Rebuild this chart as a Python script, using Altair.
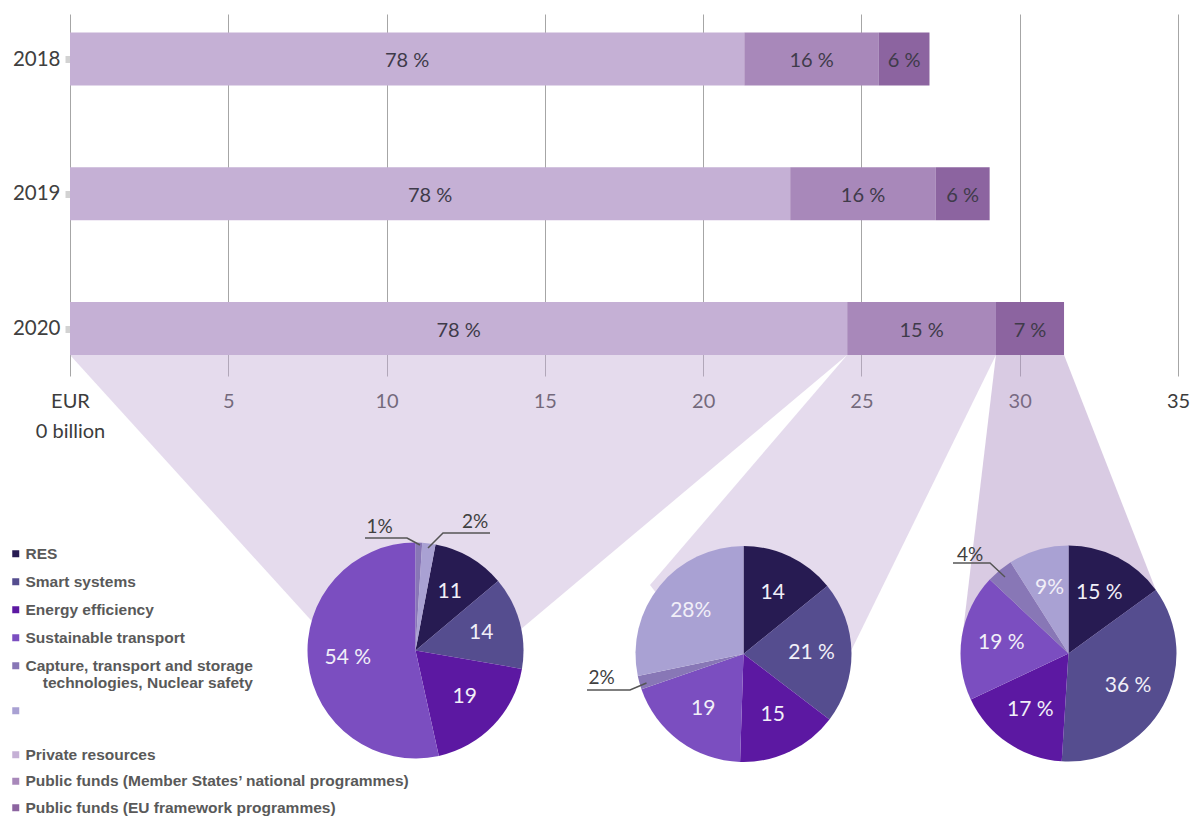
import json
import altair as alt
import numpy as np
import pandas as pd

# ---------------- data ----------------
years = ["2018", "2019", "2020"]
sources = ["Private resources",
           "Public funds (Member States\u2019 national programmes)",
           "Public funds (EU framework programmes)"]
private_bn = [21.3, 22.75, 24.55]
national_bn = [4.25, 4.6, 4.7]
eu_bn = [1.6, 1.7, 2.15]
private_pct = ["78 %", "78 %", "78 %"]
national_pct = ["16 %", "16 %", "15 %"]
eu_pct = ["6 %", "6 %", "7 %"]

themes = ["RES", "Smart systems", "Energy efficiency", "Sustainable transport",
          "Capture, transport and  storage\n\u200b\u00a0\u00a0\u00a0\u00a0technologies, Nuclear safety",
          " "]
pie_private = [11, 14, 19, 54, 1, 2]
pie_national = [14, 21, 15, 19, 2, 28]
pie_eu = [15, 36, 17, 19, 4, 9]
inside_private = ["11", "14", "19", "54 %", "", ""]
inside_national = ["14", "21 %", "15", "19", "", "28%"]
inside_eu = ["15 %", "36 %", "17 %", "19 %", "", "9%"]
outside_pie = [0, 0, 1, 2]
outside_text = ["1%", "2%", "2%", "4%"]

# ---------------- styles / layout ----------------
bar_colors = ["#c5b0d5", "#a888ba", "#8c64a0"]
theme_colors = ["#271b52", "#554d8f", "#5c18a2", "#7b4ec0", "#8877b6", "#a9a1d3"]
conn_fill = ["#c2a9d4", "#c2a9d4", "#b398c7"]
conn_opacity = [0.42, 0.42, 0.5]

PLOT_W, PLOT_H = 1108, 362
X_MAX = 35
PX_X = PLOT_W / X_MAX
ROW_PX = 134.75
Y_MIN = -45 / ROW_PX
Y_MAX = Y_MIN + PLOT_H / ROW_PX
BAR_HALF = 26.5 / ROW_PX
PIE_R = 108
LABEL_R = 68
pie_centre_px = [(345.5, 636.5), (673.5, 640.0), (998.5, 639.5)]
pie_order = [[4, 5, 0, 1, 2, 3], [0, 1, 2, 3, 4, 5], [0, 1, 2, 3, 4, 5]]
# connector edge points (px offsets from pie centre)
conn_left_px = [[(-77, 0)], [(-93.5, -69), (-40, 0)], [(-106.5, -13.5), (-60, 0)]]
conn_right_px = [[(80, 0)], [(106, 0)], [(88.5, -60.5), (100, 0)]]
# outside labels: text offset and leader polyline (px offsets from pie centre)
outside_text_px = [(-36, -124), (59.5, -128.5), (-142, 24), (-98.5, -98.5)]
outside_line_px = [
    [(-50.5, -112.5), (-8.5, -112.5), (4.5, -105.5)],
    [(74.5, -117.5), (27.5, -117.5), (12.5, -102.5)],
    [(-156.5, 36), (-113.5, 36), (-97, 29)],
    [(-115.5, -90.5), (-78.5, -90.5), (-63.5, -76.5)],
]


def to_data(px, py):
    return px / PX_X, Y_MIN + py / ROW_PX


def px_of_y(yd):
    return (yd - Y_MIN) * ROW_PX


# ---------------- tables ----------------
rows = []
for i, yr in enumerate(years):
    start = 0.0
    for s, vals, labs in zip(sources, [private_bn, national_bn, eu_bn],
                             [private_pct, national_pct, eu_pct]):
        v = vals[i]
        rows.append(dict(year=yr, source=s, x0=start, x1=start + v, xm=start + v / 2,
                         yc=i, y0=i - BAR_HALF, y1=i + BAR_HALF, label=labs[i]))
        start += v
bars = pd.DataFrame(rows)

b20 = bars[bars.year == years[-1]].reset_index(drop=True)
top_py = px_of_y(len(years) - 1 + BAR_HALF)
conn_tables = []
for k in range(3):
    cx, cy = pie_centre_px[k]
    left = [(b20.x0[k] * PX_X, top_py)] + [(cx + a, cy + b) for a, b in conn_left_px[k]]
    right = [(b20.x1[k] * PX_X, top_py)] + [(cx + a, cy + b) for a, b in conn_right_px[k]]
    ys_px = sorted(set([p[1] for p in left] + [p[1] for p in right]))
    lx = np.interp(ys_px, [p[1] for p in left], [p[0] for p in left])
    rx = np.interp(ys_px, [p[1] for p in right], [p[0] for p in right])
    conn_tables.append(pd.DataFrame({
        "y": [to_data(0, v)[1] for v in ys_px],
        "xl": [v / PX_X for v in lx],
        "xr": [v / PX_X for v in rx],
    }))

pie_tables = []
for p, (vals, labs) in enumerate(zip([pie_private, pie_national, pie_eu],
                                     [inside_private, inside_national, inside_eu])):
    cxd, cyd = to_data(*pie_centre_px[p])
    pie_tables.append(pd.DataFrame({
        "theme": themes, "value": vals, "label": labs,
        "ord": [pie_order[p].index(t) for t in range(len(themes))],
        "cx": cxd, "cy": cyd,
    }))

out_rows, line_rows = [], []
for j, (p, txt) in enumerate(zip(outside_pie, outside_text)):
    cx, cy = pie_centre_px[p]
    tx, ty = to_data(cx + outside_text_px[j][0], cy + outside_text_px[j][1])
    out_rows.append(dict(tx=tx, ty=ty, text=txt))
    for k, (a, b) in enumerate(outside_line_px[j]):
        lx, ly = to_data(cx + a, cy + b)
        line_rows.append(dict(lid=j, k=k, lx=lx, ly=ly))
outside = pd.DataFrame(out_rows)
leaders = pd.DataFrame(line_rows)

# ---------------- scales / axes ----------------
xs = alt.Scale(domain=[0, X_MAX], nice=False, zero=False)
ys = alt.Scale(domain=[Y_MIN, Y_MAX], reverse=True, nice=False, zero=False)
xaxis = alt.Axis(values=list(range(0, X_MAX + 1, 5)),
                 labelExpr="datum.value == 0 ? ['EUR', '0 billion'] : datum.label",
                 grid=True, gridColor="#a6a6a6", gridWidth=1, domain=False, ticks=False,
                 labelPadding=15, labelFont="Lato", labelFontSize=20, labelColor="#3c3c3c",
                 labelLineHeight=30, labelBaseline="top", labelFlush=False, labelOverlap=False)
yaxis = alt.Axis(values=list(range(len(years))),
                 labelExpr=json.dumps(years) + "[datum.value]",
                 grid=False, domain=False, ticks=True, tickColor="#d2d2d2", tickSize=5,
                 tickWidth=7, labelPadding=5, labelFont="Lato", labelFontSize=20.5,
                 labelColor="#404040", labelFlush=False, labelOverlap=False)


def X(f):
    return alt.X(f, type="quantitative", scale=xs, axis=xaxis, title=None)


def Y(f):
    return alt.Y(f, type="quantitative", scale=ys, axis=yaxis, title=None)


legend_style = dict(orient="none", title=None, symbolType="square", symbolSize=49,
                    symbolStrokeWidth=0, labelFont="Liberation Sans", labelFontWeight="bold",
                    labelFontSize=15.5, labelColor="#595959", labelOffset=2, labelLimit=700,
                    padding=0, labelExpr="split(datum.label, '\\n')")
theme_legend = alt.Legend(legendX=-62, legendY=532, rowPadding=11, **legend_style)
source_legend = alt.Legend(legendX=-62, legendY=733, rowPadding=9.5, **legend_style)
cscale = alt.Scale(domain=themes, range=theme_colors)
fscale = alt.Scale(domain=sources, range=bar_colors)

layers = []
for k in range(3):
    layers.append(alt.Chart(conn_tables[k]).mark_area(
        orient="horizontal", color=conn_fill[k], opacity=conn_opacity[k]).encode(
        y=Y("y"), x=alt.X("xl:Q", scale=xs, axis=xaxis, title=None, stack=None), x2="xr:Q"))

layers.append(alt.Chart(bars).mark_rect().encode(
    x=X("x0"), x2="x1", y=Y("y0"), y2="y1",
    fill=alt.Fill("source:N", scale=fscale, legend=source_legend)))
layers.append(alt.Chart(bars).mark_text(font="Lato", fontSize=20, color="#3f3b4a", dy=2).encode(
    x=X("xm"), y=Y("yc"), text="label:N"))

for p in range(3):
    layers.append(alt.Chart(pie_tables[p]).mark_arc(outerRadius=PIE_R).encode(
        x=X("cx"), y=Y("cy"),
        theta=alt.Theta("value:Q", stack=True),
        color=alt.Color("theme:N", scale=cscale, legend=theme_legend),
        order=alt.Order("ord:Q", sort="ascending")))
    layers.append(alt.Chart(pie_tables[p]).mark_text(
        radius=LABEL_R, font="Lato", fontSize=21, color="#f1eff8").encode(
        x=X("cx"), y=Y("cy"),
        theta=alt.Theta("value:Q", stack=True),
        detail="theme:N",
        order=alt.Order("ord:Q", sort="ascending"),
        text="label:N"))

layers.append(alt.Chart(leaders).mark_line(color="#555555", strokeWidth=1.5).encode(
    x=X("lx"), y=Y("ly"), detail="lid:N", order="k:Q"))
layers.append(alt.Chart(outside).mark_text(font="Lato", fontSize=19, color="#404040").encode(
    x=X("tx"), y=Y("ty"), text="text:N"))

chart = alt.layer(*layers).resolve_scale(theta="independent").properties(
    width=PLOT_W, height=PLOT_H,
    padding={"left": 62, "top": 6, "right": 14, "bottom": 442},
    autosize=alt.AutoSizeParams(type="none"),
    background="white",
).configure_view(strokeWidth=0)

chart.save("out.html", embed_options={"renderer": "svg", "actions": False})
